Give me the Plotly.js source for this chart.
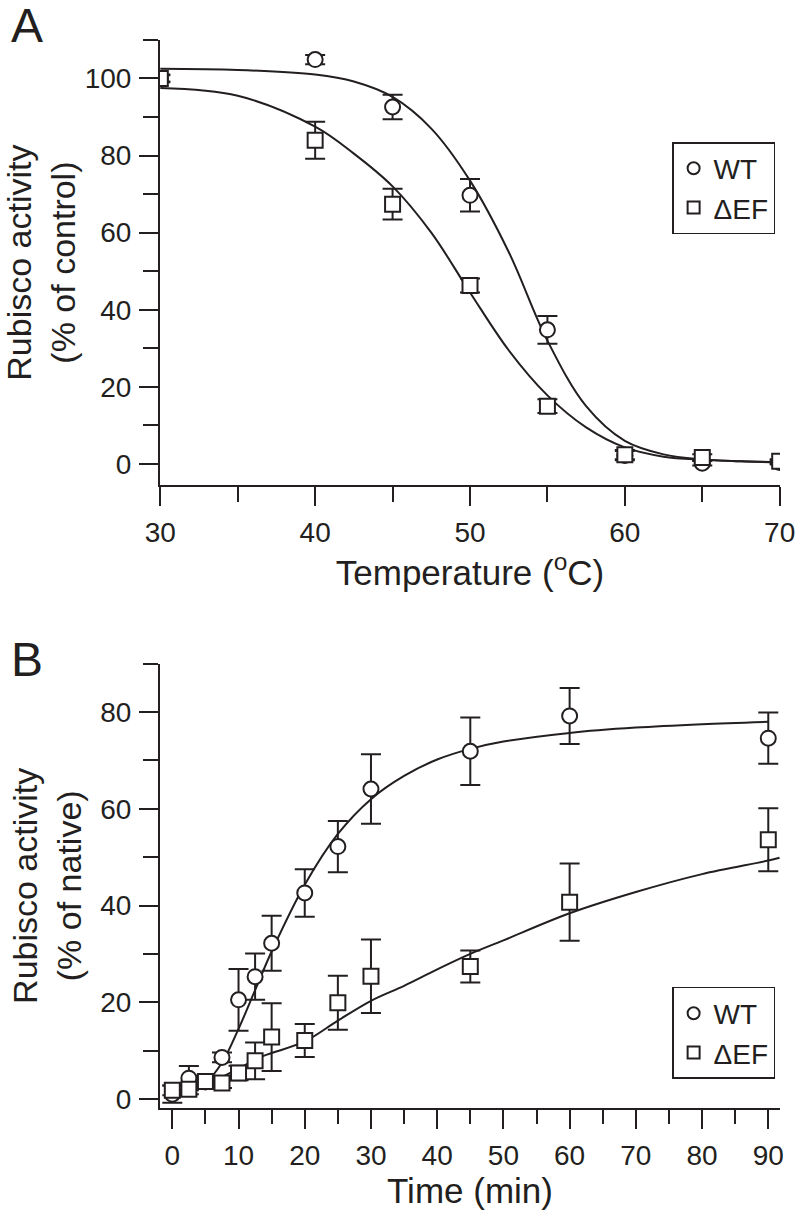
<!DOCTYPE html>
<html>
<head>
<meta charset="utf-8">
<script src="https://cdn.plot.ly/plotly-3.0.1.min.js"></script>
<style>html,body{margin:0;padding:0;background:#fff;}</style>
</head>
<body>
<div id="chart" style="width:800px;height:1214px;"></div>
<script>
// ---- Panel A: temperature ----
var tempA = [30, 40, 45, 50, 55, 60, 65, 70];
var wtA = [100, 104.9, 92.6, 69.7, 34.8, 2.2, 0.2, 0.4];
var wtAerr = [0.8, 1.2, 3.2, 4.2, 3.6, 1.2, 0.6, 0.5];
var efA = [100, 84, 67.4, 46.3, 15, 2.4, 1.7, 0.7];
var efAerr = [1, 4.8, 4, 1.8, 1.8, 1.2, 0.8, 0.5];
var fitTempA = [30, 35, 40, 42.5, 45, 47.5, 50, 52.5, 55, 57.5, 60, 62.5, 65, 67.5, 70];
var fitWtA = [102.5, 102.2, 101, 99.2, 95.2, 87, 73.5, 55, 32, 15, 6, 2.5, 1.2, 0.7, 0.5];
var fitEfA = [97.5, 95.5, 87.5, 80.5, 72, 60, 44.5, 29.5, 17.8, 9.5, 4.3, 1.9, 1.1, 0.7, 0.4];

// ---- Panel B: time ----
var timeWtB = [0, 2.5, 5, 7.5, 10, 12.5, 15, 20, 25, 30, 45, 60, 90];
var wtB = [1, 4.3, 3.5, 8.6, 20.5, 25.3, 32.2, 42.6, 52.2, 64.1, 71.9, 79.2, 74.6];
var wtBerr = [1.8, 2.5, 1, 1, 6.4, 4.8, 5.7, 4.9, 5.3, 7.2, 7, 5.8, 5.3];
var timeEfB = [0, 2.5, 5, 7.5, 10, 12.5, 15, 20, 25, 30, 45, 60, 90];
var efB = [1.8, 2, 3.6, 3.3, 5.4, 7.9, 12.8, 12.1, 19.9, 25.4, 27.4, 40.7, 53.6];
var efBerr = [1, 1, 1.2, 1, 1.5, 3.8, 7, 3.4, 5.6, 7.6, 3.3, 8, 6.5];
var fitTimeWtB = [0, 2.5, 5, 7.5, 10, 12.5, 15, 20, 25, 30, 35, 40, 45, 50, 60, 70, 80, 90];
var fitWtB = [1.6, 2.3, 3.4, 7.5, 14.5, 22.5, 30.5, 44.3, 54.8, 62, 66.8, 70.2, 72.4, 73.9, 75.7, 76.8, 77.5, 78];
var fitTimeEfB = [0, 5, 10, 13, 15, 20, 25, 30, 35, 40, 45, 50, 60, 70, 80, 90, 91.7];
var fitEfB = [1.5, 3.0, 6.3, 8.5, 9.5, 11.9, 16.2, 20.3, 23.4, 26.8, 30, 32.8, 38.4, 42.8, 46.5, 49.3, 49.9];

var seriesNames = ['WT', '\u0394EF'];

var FONT = 'Liberation Sans, Arial, Helvetica, sans-serif';
var K = '#231f20';

function fitLine(x, y, xa, ya) {
  return {x: x, y: y, xaxis: xa, yaxis: ya, type: 'scatter', mode: 'lines',
    line: {color: K, width: 2, shape: 'spline', smoothing: 1}, showlegend: false, hoverinfo: 'skip'};
}
function pts(x, y, e, sym, name, xa, ya, leg) {
  return {x: x, y: y, xaxis: xa, yaxis: ya, type: 'scatter', mode: 'markers', name: name, legend: leg,
    marker: {symbol: sym, size: 15, color: '#ffffff', line: {color: K, width: 2}},
    error_y: {type: 'data', array: e, visible: true, color: K, thickness: 2, width: 10}};
}

var data = [
  fitLine(fitTempA, fitWtA, 'x', 'y'),
  fitLine(fitTempA, fitEfA, 'x', 'y'),
  pts(tempA, wtA, wtAerr, 'circle', seriesNames[0], 'x', 'y', 'legend'),
  pts(tempA, efA, efAerr, 'square', seriesNames[1], 'x', 'y', 'legend'),
  fitLine(fitTimeWtB, fitWtB, 'x2', 'y2'),
  fitLine(fitTimeEfB, fitEfB, 'x2', 'y2'),
  pts(timeWtB, wtB, wtBerr, 'circle', seriesNames[0], 'x2', 'y2', 'legend2'),
  pts(timeEfB, efB, efBerr, 'square', seriesNames[1], 'x2', 'y2', 'legend2')
];

function axisBase() {
  return {showline: true, linecolor: K, linewidth: 2, showgrid: false, zeroline: false,
    ticks: 'outside', ticklen: 19, tickwidth: 2, tickcolor: K,
    tickfont: {family: FONT, size: 28, color: K}, ticklabelstandoff: 2};
}

var xA = axisBase();
Object.assign(xA, {domain: [0, 1], anchor: 'y', range: [29.98, 70.02], tick0: 30, dtick: 10,
  minor: {dtick: 5, ticklen: 15, tickwidth: 2, tickcolor: K, ticks: 'outside'},
  title: {text: 'Temperature (<sup>o</sup>C)', font: {family: FONT, size: 35, color: K}, standoff: 6}});
var yA = axisBase();
Object.assign(yA, {domain: [0.5818, 0.9984], anchor: 'x', range: [-5.57, 110.05], tick0: 0, dtick: 20,
  minor: {dtick: 10, ticklen: 15, tickwidth: 2, tickcolor: K, ticks: 'outside'},
  title: {text: 'Rubisco activity<br>(% of control)', font: {family: FONT, size: 34, color: K}, standoff: 8}});
var xB = axisBase();
Object.assign(xB, {domain: [0, 1], anchor: 'y2', range: [-1.86, 91.77], tick0: 0, dtick: 10,
  minor: {dtick: 5, ticklen: 14, tickwidth: 2, tickcolor: K, ticks: 'outside'},
  title: {text: 'Time (min)', font: {family: FONT, size: 35, color: K}, standoff: 6}});
var yB = axisBase();
Object.assign(yB, {domain: [0, 0.4153], anchor: 'x2', range: [-1.86, 90.02], tick0: 0, dtick: 20,
  minor: {dtick: 10, ticklen: 15, tickwidth: 2, tickcolor: K, ticks: 'outside'},
  title: {text: 'Rubisco activity<br>(% of native)', font: {family: FONT, size: 34, color: K}, standoff: 8}});

var legStyle = {bgcolor: '#ffffff', bordercolor: K, borderwidth: 1.5,
  font: {family: FONT, size: 28, color: K}, itemsizing: 'constant',
  xref: 'paper', yref: 'paper', xanchor: 'left', yanchor: 'top', tracegroupgap: 0};

var layout = {
  width: 800, height: 1214,
  margin: {l: 160, r: 20, t: 38, b: 106},
  paper_bgcolor: '#ffffff', plot_bgcolor: '#ffffff',
  font: {family: FONT, color: K},
  xaxis: xA, yaxis: yA, xaxis2: xB, yaxis2: yB,
  legend: Object.assign({x: 0.826, y: 0.9028}, legStyle),
  legend2: Object.assign({x: 0.826, y: 0.1131}, legStyle),
  annotations: [
    {text: 'A', xref: 'paper', yref: 'paper', x: -0.2145, y: 1.012, xanchor: 'center', yanchor: 'middle',
     showarrow: false, font: {family: FONT, size: 48, color: K}},
    {text: 'B', xref: 'paper', yref: 'paper', x: -0.2145, y: 0.4187, xanchor: 'center', yanchor: 'middle',
     showarrow: false, font: {family: FONT, size: 48, color: K}}
  ]
};

Plotly.newPlot('chart', data, layout, {staticPlot: true, displayModeBar: false});
</script>
</body>
</html>
